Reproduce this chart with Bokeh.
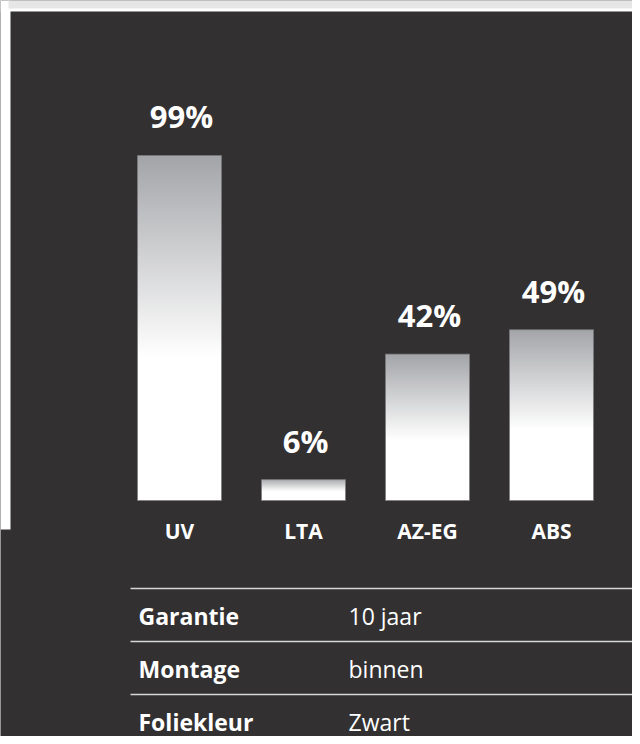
import numpy as np
from bokeh.plotting import figure
from bokeh.models import Range1d, ColumnDataSource
from bokeh.core.properties import value
from bokeh.embed import file_html
from bokeh.resources import INLINE

# ---- data ----
categories = ["UV", "LTA", "AZ-EG", "ABS"]
percentages = [99, 6, 42, 49]
value_labels = ["99%", "6%", "42%", "49%"]
table_keys = ["Garantie", "Montage", "Foliekleur"]
table_values = ["10 jaar", "binnen", "Zwart"]

# ---- layout (pixels) ----
W, H = 632, 736
x0_px, step_px = 179.0, 124.0      # centre of first bar, spacing
y0_px, unit_px = 500.0, 3.485      # baseline from top, px per percent
BG = "#323031"
FONT = value("Open Sans")

def dx(px):
    return (px - x0_px) / step_px

def dy(py):
    return (y0_px - py) / unit_px

p = figure(width=W, height=H, output_backend="svg", toolbar_location=None,
           x_range=Range1d(dx(0), dx(W)), y_range=Range1d(dy(H), dy(0)),
           min_border=0, outline_line_color=None,
           background_fill_color=BG, border_fill_color=BG)
p.axis.visible = False
p.grid.visible = False

# page-edge strips like the screenshot
p.quad(left=[dx(0), dx(0)], right=[dx(W), dx(10)], top=[dy(0), dy(0)],
       bottom=[dy(11), dy(529)], fill_color="white", line_color=None)
p.quad(left=[dx(8)], right=[dx(W)], top=[dy(0)], bottom=[dy(8)],
       fill_color="#e6e6e6", line_color=None)

# ---- bars with vertical gradient ----
idx = list(range(len(categories)))
bar_w = 84.0 / step_px
top_rgb = np.array([164, 165, 169], dtype=float)
white = np.array([255, 255, 255], dtype=float)
n = 300
imgs, xs, ws, hs = [], [], [], []
for i, v in zip(idx, percentages):
    f_from_top = 1.0 - (np.arange(n) + 0.5) / n
    t = np.clip(f_from_top / 0.58, 0, 1)
    cols = top_rgb[None, :] * (1 - t[:, None]) + white[None, :] * t[:, None]
    img = np.empty((n, 1), dtype=np.uint32)
    view = img.view(dtype=np.uint8).reshape((n, 1, 4))
    view[:, 0, 0] = cols[:, 0].astype(np.uint8)
    view[:, 0, 1] = cols[:, 1].astype(np.uint8)
    view[:, 0, 2] = cols[:, 2].astype(np.uint8)
    view[:, 0, 3] = 255
    imgs.append(img)
    xs.append(i - bar_w / 2)
    ws.append(bar_w)
    hs.append(v)
p.image_rgba(image=imgs, x=xs, y=[0] * len(idx), dw=ws, dh=hs)
p.vbar(x=idx, top=percentages, bottom=0, width=bar_w, fill_alpha=0,
       line_color="#7a7a7d", line_width=1, line_alpha=0.7)

src = ColumnDataSource(dict(x=idx, top=percentages, lab=value_labels, cat=categories,
                            zero=[0] * len(idx)))
p.text(x="x", y="top", text="lab", source=src, y_offset=-39, x_offset=2,
       text_align="center", text_baseline="middle", text_font=FONT,
       text_font_style="bold", text_font_size="31px", text_color="white")
p.text(x="x", y="zero", text="cat", source=src, y_offset=30,
       text_align="center", text_baseline="middle", text_font=FONT,
       text_font_style="bold", text_font_size="21px", text_color="white")

# ---- table ----
row_line_px = [588 + 53 * k for k in range(len(table_keys))]
p.segment(x0=[dx(130)] * len(row_line_px), x1=[dx(W)] * len(row_line_px),
          y0=[dy(r) for r in row_line_px], y1=[dy(r) for r in row_line_px],
          line_color="#d6d6d6", line_width=1.5)
mid = [dy(r + 27) for r in row_line_px]
p.text(x=[dx(138)] * len(table_keys), y=mid, text=table_keys,
       text_baseline="middle", text_font=FONT, text_font_style="bold",
       text_font_size="23px", text_color="white")
p.text(x=[dx(348)] * len(table_values), y=mid, text=table_values,
       text_baseline="middle", text_font=FONT,
       text_font_size="23px", text_color="white")

open("out.html", "w").write(file_html(p, INLINE))
